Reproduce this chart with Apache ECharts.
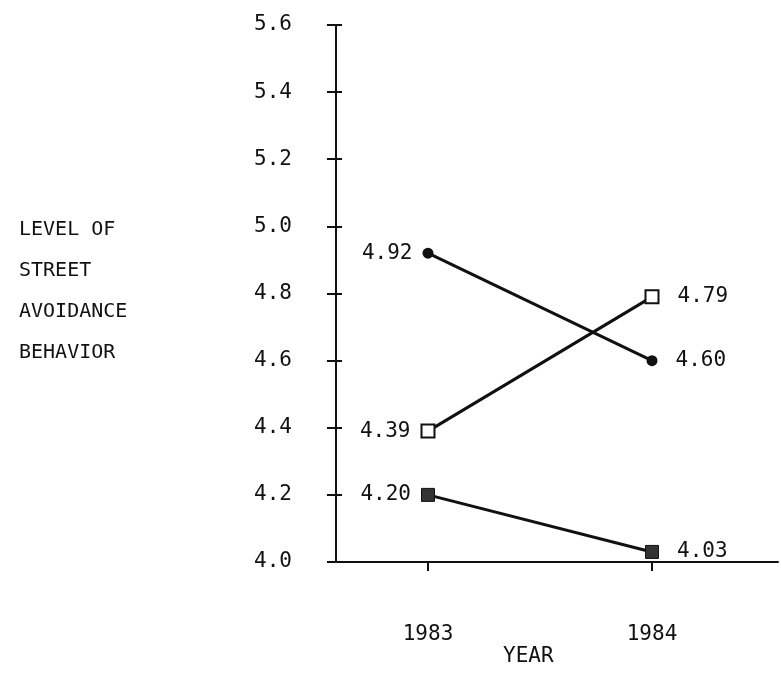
<!DOCTYPE html>
<html>
<head>
<meta charset="utf-8">
<script src="https://cdn.jsdelivr.net/npm/echarts@6/dist/echarts.min.js"></script>
<style>html,body{margin:0;padding:0;background:#fff}#c{width:781px;height:675px}</style>
</head>
<body>
<div id="c"></div>
<script>
var years = [1983, 1984];
var seriesCircle = [4.92, 4.60];
var seriesOpenSquare = [4.39, 4.79];
var seriesFilledSquare = [4.20, 4.03];
var yTicks = [4.0, 4.2, 4.4, 4.6, 4.8, 5.0, 5.2, 5.4, 5.6];
var yTitleLines = ['LEVEL OF', 'STREET', 'AVOIDANCE', 'BEHAVIOR'];
var xTitle = 'YEAR';

var FONT = 'DejaVu Sans Mono';
var chart = echarts.init(document.getElementById('c'));

function makeData(vals) {
  return vals.map(function (v, i) {
    return {
      value: [years[i], v],
      label: {
        show: true,
        position: i === 0 ? 'left' : 'right',
        distance: i === 0 ? 10 : 18,
        formatter: function (p) { return p.value[1].toFixed(2); },
        fontFamily: FONT, fontSize: 21, color: '#111'
      }
    };
  });
}

var lineStyle = { color: '#111', width: 3 };

chart.setOption({
  animation: false,
  backgroundColor: '#fff',
  title: {
    text: yTitleLines.join('\n'),
    left: 14, top: 204,
    textStyle: { fontFamily: FONT, fontSize: 20, fontWeight: 'normal', color: '#111', lineHeight: 41 }
  },
  graphic: [{
    type: 'text', left: 503, top: 646,
    style: { text: xTitle, font: '21px "DejaVu Sans Mono"', fill: '#111' }
  }],
  grid: { left: 336, top: 25, right: 3, bottom: 113, containLabel: false, outerBoundsMode: 'none' },
  xAxis: {
    type: 'value',
    min: 1982.5893, max: 1984.5625,
    splitLine: { show: false },
    axisLine: { show: true, lineStyle: { color: '#111', width: 2 } },
    axisTick: { show: true, customValues: years, length: 9, lineStyle: { color: '#111', width: 2 } },
    axisLabel: { customValues: years, margin: 62, fontFamily: FONT, fontSize: 21, color: '#111',
      formatter: function (v) { return String(v); } }
  },
  yAxis: [{
    type: 'value', min: 4.0, max: 5.6, interval: 0.2,
    splitLine: { show: false },
    axisLine: { show: true, lineStyle: { color: '#111', width: 2 } },
    axisTick: { show: true, length: 9, lineStyle: { color: '#111', width: 2 } },
    axisLabel: { margin: 44, fontFamily: FONT, fontSize: 21, color: '#111',
      formatter: function (v) { return v.toFixed(1); } }
  }, {
    type: 'value', min: 4.0, max: 5.6, interval: 0.2, position: 'left',
    splitLine: { show: false },
    axisLine: { show: false },
    axisTick: { show: true, inside: true, length: 6, lineStyle: { color: '#111', width: 2 } },
    axisLabel: { show: false }
  }],
  series: [{
    type: 'line', data: makeData(seriesCircle),
    symbol: 'circle', symbolSize: 11,
    itemStyle: { color: '#111' }, lineStyle: lineStyle
  }, {
    type: 'line', data: makeData(seriesOpenSquare),
    symbol: 'rect', symbolSize: 13,
    itemStyle: { color: '#fff', borderColor: '#111', borderWidth: 2 }, lineStyle: lineStyle, z: 3
  }, {
    type: 'line', data: makeData(seriesFilledSquare),
    symbol: 'rect', symbolSize: 13,
    itemStyle: { color: '#333', borderColor: '#111', borderWidth: 1 }, lineStyle: lineStyle
  }]
});
</script>
</body>
</html>
